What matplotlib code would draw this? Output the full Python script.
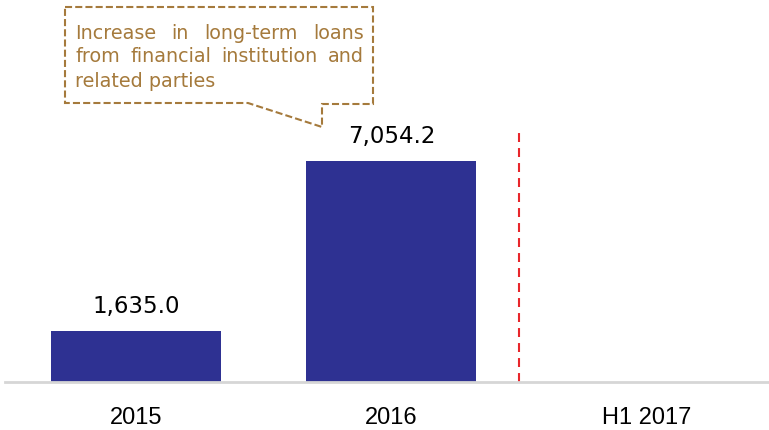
import matplotlib
matplotlib.use("Agg")
from matplotlib import pyplot as plt
from matplotlib.path import Path
from matplotlib.patches import PathPatch

categories = ["2015", "2016", "H1 2017"]
values = [1635.0, 7054.2, None]
value_labels = ["1,635.0", "7,054.2", ""]
note_lines = [
	"Increase in long-term loans",
	"from financial institution and",
	"related parties",
]

BAR_COLOR = "#2E3192"
NOTE_COLOR = "#A57A3C"
DIVIDER_COLOR = "#E8262B"

W, H = 769, 431


def px(x, y):
	"""Pixel position (from top-left) to figure fraction."""
	return x / W, 1 - y / H


fig = plt.figure(figsize=(W / 100, H / 100), dpi=100)
ax = fig.add_axes([5 / W, 48 / H, 764 / W, 383 / H])

xs = list(range(len(categories)))
for x, v, lab in zip(xs, values, value_labels):
	if v is None:
		continue
	ax.bar(x, v, width=0.667, color=BAR_COLOR, zorder=2)
	ax.text(x, v + 606, lab, ha="center", va="baseline", fontsize=16.5,
		family="DejaVu Sans", color="black")

ax.set_xlim(-0.514, 2.48)
ax.set_ylim(0, 12225)
ax.set_xticks(xs)
ax.set_xticklabels(categories, fontsize=17, family="Liberation Sans")
ax.tick_params(axis="x", length=0, pad=17)
ax.set_yticks([])
for s in ["top", "left", "right"]:
	ax.spines[s].set_visible(False)
ax.spines["bottom"].set_color("#D6D6D6")
ax.spines["bottom"].set_linewidth(2)

# divider between full years and half year
ax.plot([1.5, 1.5], [0, 8140], ls=(0, (4.3, 2.9)), color=DIVIDER_COLOR, lw=1.5, zorder=1)

# callout box with pointer toward the 2016 bar
outline = [
	(65, 8), (373, 8), (373, 105), (322, 105), (322, 128), (248, 104), (65, 104), (65, 8),
]
verts = [px(x, y) for x, y in outline]
codes = [Path.MOVETO] + [Path.LINETO] * (len(verts) - 2) + [Path.CLOSEPOLY]
fig.patches.append(PathPatch(Path(verts, codes), transform=fig.transFigure,
	facecolor="white", edgecolor=NOTE_COLOR, lw=1.5, ls=(0, (3.4, 1.5))))

# justified note text
left, right = 75, 364
baselines = [39, 62, 87]
fig.canvas.draw()
renderer = fig.canvas.get_renderer()


def text_width(s, size):
	t = fig.text(0, 0, s, fontsize=size, family="DejaVu Sans")
	w = t.get_window_extent(renderer).width
	t.remove()
	return w


note_size = 10 * 141 / text_width(note_lines[-1], 10)
for i, (line, y) in enumerate(zip(note_lines, baselines)):
	if i == len(note_lines) - 1:
		fig.text(*px(left, y), line, fontsize=note_size, family="DejaVu Sans",
			color=NOTE_COLOR, ha="left", va="baseline")
		continue
	words = line.split()
	widths = [text_width(w, note_size) for w in words]
	gap = (right - left - sum(widths)) / (len(words) - 1)
	x = left
	for w, wd in zip(words, widths):
		fig.text(*px(x, y), w, fontsize=note_size, family="DejaVu Sans",
			color=NOTE_COLOR, ha="left", va="baseline")
		x += wd + gap

fig.savefig("out.png", dpi=100)
